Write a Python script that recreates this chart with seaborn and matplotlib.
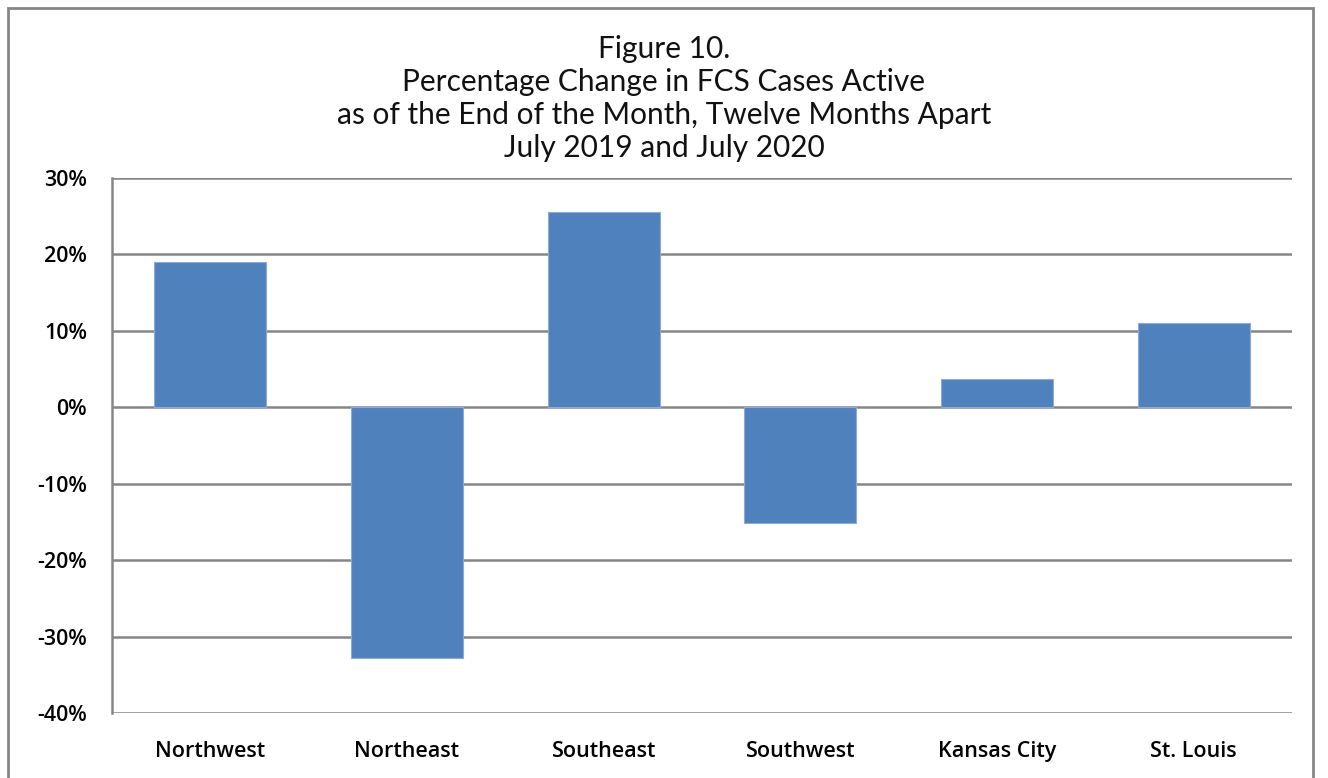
import matplotlib
matplotlib.use("Agg")
import matplotlib.pyplot as plt
import matplotlib.patches as mpatches
from matplotlib.ticker import FuncFormatter, MultipleLocator
import seaborn as sns
import pandas as pd

# Datos
regions = ["Northwest", "Northeast", "Southeast", "Southwest", "Kansas City", "St. Louis"]
pct_change = [19.0, -32.8, 25.5, -15.2, 3.7, 11.0]

title_lines = [
    "Figure 10.",
    "Percentage Change in FCS Cases Active",
    "as of the End of the Month, Twelve Months Apart",
    "July 2019 and July 2020",
]

df = pd.DataFrame({"region": regions, "pct": pct_change})

sns.set_style("white")
plt.rcParams["font.family"] = ["Open Sans", "DejaVu Sans"]

fig = plt.figure(figsize=(13.28, 7.78), dpi=100)
ax = fig.add_axes([0.0843, 0.0835, 0.8886, 0.6877])

sns.barplot(data=df, x="region", y="pct", color="#4f81bd", saturation=1,
            width=0.57, ax=ax, zorder=3, edgecolor="#8eaad6", linewidth=0.8)

ax.set_ylim(-40, 30)
ax.yaxis.set_major_locator(MultipleLocator(10))
ax.yaxis.set_major_formatter(FuncFormatter(lambda v, p: f"{v:.0f}%"))
ax.grid(axis="y", color="#868686", linewidth=1.8, zorder=1)
ax.set_axisbelow(True)
for s in ["top", "right", "bottom"]:
    ax.spines[s].set_visible(False)
ax.spines["left"].set_color("#868686")
ax.spines["left"].set_linewidth(1.8)
ax.set_xlabel("")
ax.set_ylabel("")
ax.tick_params(axis="both", length=0, labelsize=15.5, colors="black")
ax.tick_params(axis="x", pad=20)
ax.tick_params(axis="y", pad=18)
for lbl in ax.get_xticklabels() + ax.get_yticklabels():
    lbl.set_fontweight("semibold")
    lbl.set_family(["Open Sans", "DejaVu Sans"])

fig.text(0.5, 0.955, "\n".join(title_lines), ha="center", va="top",
         fontsize=21.5, fontweight="normal", linespacing=1.22, color="#111111",
         family=["Lato", "DejaVu Sans"])

# marco exterior
border = mpatches.Rectangle((8 / 1328, -0.05), (1313 - 8) / 1328, 1.05 - 8 / 778,
                            transform=fig.transFigure, fill=False,
                            edgecolor="#868686", linewidth=2, clip_on=False)
fig.patches.append(border)

plt.savefig("out.png", dpi=100)
